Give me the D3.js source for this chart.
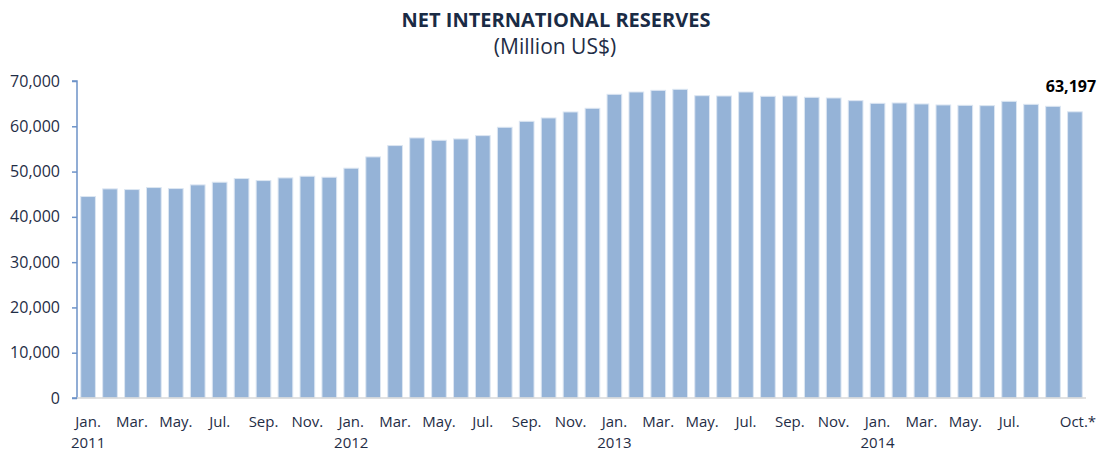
<!DOCTYPE html>
<html>
<head>
<meta charset="utf-8">
<script src="https://cdn.jsdelivr.net/npm/d3@7"></script>
<style>
  body { margin: 0; background: #fff; }
  text { font-family: "Open Sans", sans-serif; }
  .tick text { fill: #1f2d46; font-size: 16px; font-family: "Open Sans", sans-serif; }
</style>
</head>
<body>
<div id="chart"></div>
<script>
// month labels (every bar), shown every 2 months + the last one
var months = ["Jan.","Feb.","Mar.","Apr.","May.","Jun.","Jul.","Aug.","Sep.","Oct.","Nov.","Dec."];
var years = ["2011","2012","2013","2014"];
var values = [
  44490, 46180, 46030, 46470, 46250, 47060, 47650, 48460, 48010, 48600, 48970, 48750,
  50740, 53240, 55740, 57430, 56910, 57210, 57940, 59780, 61100, 61840, 63160, 63970,
  67060, 67570, 67940, 68160, 66760, 66690, 67570, 66620, 66690, 66400, 66250, 65660,
  65070, 65150, 64930, 64710, 64630, 64560, 65510, 64850, 64410, 63197
];
var yTicks = [0, 10000, 20000, 30000, 40000, 50000, 60000, 70000];
var lastLabel = "63,197";

var width = 1103, height = 452;
var margin = {t: 81, r: 17, b: 54, l: 77};

var svg = d3.select('#chart').append('svg')
    .attr('width', width)
    .attr('height', height);

var idx = d3.range(values.length);

var x = d3.scaleBand().domain(idx)
    .range([margin.l, width - margin.r])
    .paddingInner(0.33).paddingOuter(0.17);
var y = d3.scaleLinear().domain([0, 70000]).range([height - margin.b, margin.t]);

// title
svg.append('text').attr('x', 556).attr('y', 27)
    .attr('text-anchor', 'middle')
    .style('font-weight', 'bold').style('font-size', '20px').style('fill', '#1a2b45')
    .text('NET INTERNATIONAL RESERVES');
svg.append('text').attr('x', 555).attr('y', 54)
    .attr('text-anchor', 'middle')
    .style('font-size', '21px').style('fill', '#1f2d46')
    .text('(Million US$)');

// bars
svg.append('g').selectAll('rect')
    .data(values)
    .enter().append('rect')
    .attr('x', function(d, i){ return x(i); })
    .attr('y', function(d){ return y(d); })
    .attr('width', x.bandwidth())
    .attr('height', function(d){ return y(0) - y(d); })
    .attr('fill', '#95b3d7')
    .attr('stroke', '#dce6f2')
    .attr('stroke-width', 1);

// y axis
var yAxis = svg.append('g')
    .attr('transform', 'translate(' + margin.l + ',0)')
    .call(d3.axisLeft(y).tickValues(yTicks).tickSize(5).tickPadding(12)
        .tickFormat(d3.format(',')));
yAxis.select('.domain').attr('stroke', '#6d93c8').attr('stroke-width', 1.5).attr('d', 'M-5,' + y(70000) + 'H0V' + y(0) + 'H-5');
yAxis.selectAll('.tick line').attr('stroke', '#6d93c8').attr('stroke-width', 1.5);

// x baseline
svg.append('line')
    .attr('x1', margin.l).attr('x2', width - margin.r)
    .attr('y1', y(0)).attr('y2', y(0))
    .attr('stroke', '#d9d9d9').attr('stroke-width', 1.5);

// month labels: every other month, but Sep. 2014 is skipped for Oct.*
var last = values.length - 1;
var shown = idx.filter(function(i){ return (i % 2 === 0 && i < last - 1) || i === last; });
svg.append('g').selectAll('text.month')
    .data(shown)
    .enter().append('text')
    .attr('class', 'month')
    .attr('x', function(i){ return x(i) + x.bandwidth()/2 + (i === last ? 3 : 0); })
    .attr('y', y(0) + 29)
    .attr('text-anchor', 'middle')
    .style('font-size', '15px').style('fill', '#1f2d46')
    .text(function(i){ return months[i % 12] + (i === last ? '*' : ''); });

// year labels under each January
svg.append('g').selectAll('text.year')
    .data(years)
    .enter().append('text')
    .attr('class', 'year')
    .attr('x', function(d, k){ return x(k * 12) + x.bandwidth()/2; })
    .attr('y', y(0) + 50)
    .attr('text-anchor', 'middle')
    .style('font-size', '15px').style('fill', '#1f2d46')
    .text(function(d){ return d; });

// last value label
svg.append('text')
    .attr('x', x(last) + x.bandwidth()/2 - 4)
    .attr('y', y(values[last]) - 20)
    .attr('text-anchor', 'middle')
    .style('font-weight', 'bold').style('font-size', '16px').style('fill', '#000')
    .text(lastLabel);
</script>
</body>
</html>
